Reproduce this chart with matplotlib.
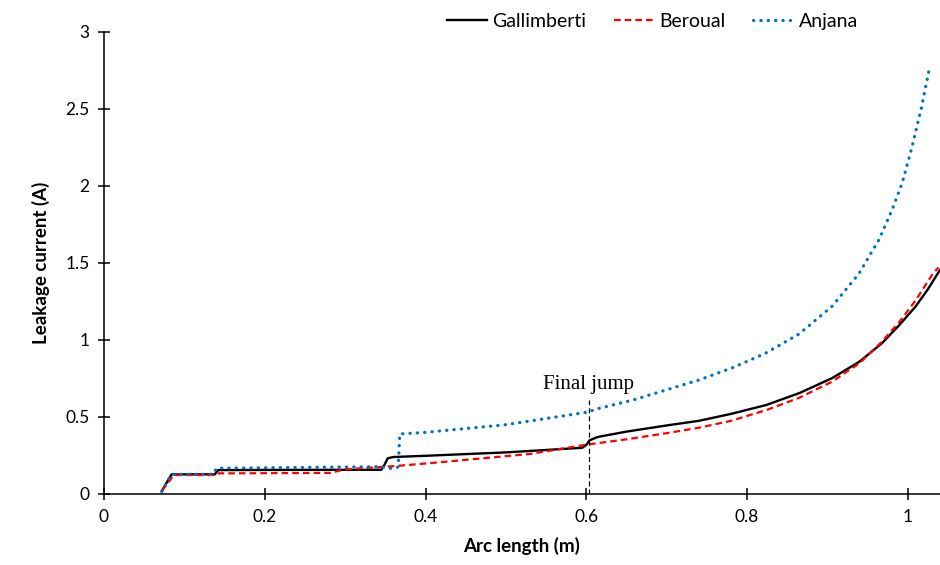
import matplotlib
matplotlib.use("Agg")
import matplotlib.pyplot as plt

plt.rcParams['font.family'] = ['Lato', 'DejaVu Sans']

# arc length (m) vs leakage current (A) for the three models
gal_x = [0.072, 0.084, 0.138, 0.142, 0.20, 0.30, 0.345, 0.349, 0.353, 0.36, 0.40,
         0.50, 0.595, 0.600, 0.604, 0.612, 0.616, 0.65, 0.70, 0.74, 0.78, 0.824,
         0.865, 0.906, 0.94, 0.968, 0.99, 1.01, 1.025, 1.04]
gal_y = [0.02, 0.127, 0.128, 0.155, 0.156, 0.157, 0.157, 0.19, 0.232, 0.24, 0.248,
         0.27, 0.30, 0.318, 0.348, 0.366, 0.372, 0.405, 0.445, 0.475, 0.52, 0.578,
         0.655, 0.753, 0.86, 0.98, 1.10, 1.22, 1.33, 1.455]

ber_x = [0.072, 0.087, 0.138, 0.142, 0.20, 0.281, 0.30, 0.359, 0.405, 0.53, 0.60,
         0.65, 0.70, 0.74, 0.78, 0.824, 0.865, 0.906, 0.94, 0.968, 0.99, 1.01,
         1.031, 1.038]
ber_y = [0.02, 0.123, 0.123, 0.134, 0.135, 0.137, 0.16, 0.18, 0.20, 0.26, 0.32,
         0.355, 0.395, 0.43, 0.475, 0.545, 0.625, 0.73, 0.85, 0.99, 1.12, 1.26,
         1.43, 1.47]

anj_x = [0.072, 0.084, 0.136, 0.140, 0.20, 0.30, 0.343, 0.352, 0.360, 0.366, 0.368,
         0.40, 0.50, 0.60, 0.616, 0.658, 0.699, 0.74, 0.782, 0.823, 0.865, 0.906,
         0.939, 0.964, 0.980, 0.993, 1.005, 1.017, 1.027]
anj_y = [0.015, 0.128, 0.128, 0.167, 0.17, 0.175, 0.177, 0.168, 0.165, 0.175, 0.39,
         0.40, 0.45, 0.53, 0.556, 0.61, 0.675, 0.74, 0.82, 0.914, 1.04, 1.22,
         1.43, 1.65, 1.84, 2.02, 2.25, 2.51, 2.77]

jump_x = 0.603
jump_top = 0.61

fig = plt.figure(figsize=(9.4, 5.65), dpi=100)
ax = fig.add_axes([0.1106, 0.1257, 0.8894, 0.8177])

ax.plot(gal_x, gal_y, color='black', lw=1.7, label='Gallimberti')
ax.plot(ber_x, ber_y, color='#FF0000', lw=1.6, linestyle=(0, (3, 1.8)), label='Beroual')
ax.plot(anj_x, anj_y, color='#0070C0', lw=2.3, linestyle=(0, (0.1, 2.2)),
        dash_capstyle='round', label='Anjana')

ax.plot([jump_x, jump_x], [0, jump_top], color='black', lw=0.9, linestyle=(0, (4, 2.5)))
ax.text(jump_x - 0.0, jump_top + 0.04, 'Final jump', ha='center', va='bottom',
        fontsize=15, family=['Liberation Serif'])

ax.set_xlim(0, 1.04)
ax.set_ylim(0, 3)
ax.set_xticks([0, 0.2, 0.4, 0.6, 0.8, 1.0])
ax.set_xticklabels(['0', '0.2', '0.4', '0.6', '0.8', '1'])
ax.set_yticks([0, 0.5, 1, 1.5, 2, 2.5, 3])
ax.set_yticklabels(['0', '0.5', '1', '1.5', '2', '2.5', '3'])

for s in ['top', 'right']:
    ax.spines[s].set_visible(False)
for s in ['left', 'bottom']:
    ax.spines[s].set_linewidth(1.1)
ax.tick_params(direction='inout', length=9, width=1.1, labelsize=12.5, pad=6)
ax.set_xlabel('Arc length (m)', fontsize=13.5, fontweight='bold', labelpad=9)
ax.set_ylabel('Leakage current (A)', fontsize=13.5, fontweight='bold', labelpad=11)

fig.legend(loc='center', bbox_to_anchor=(0.694, 0.962), ncol=3, frameon=False,
           fontsize=14, handlelength=2.05, handletextpad=0.3, columnspacing=1.4)

fig.savefig('out.png', dpi=100)
